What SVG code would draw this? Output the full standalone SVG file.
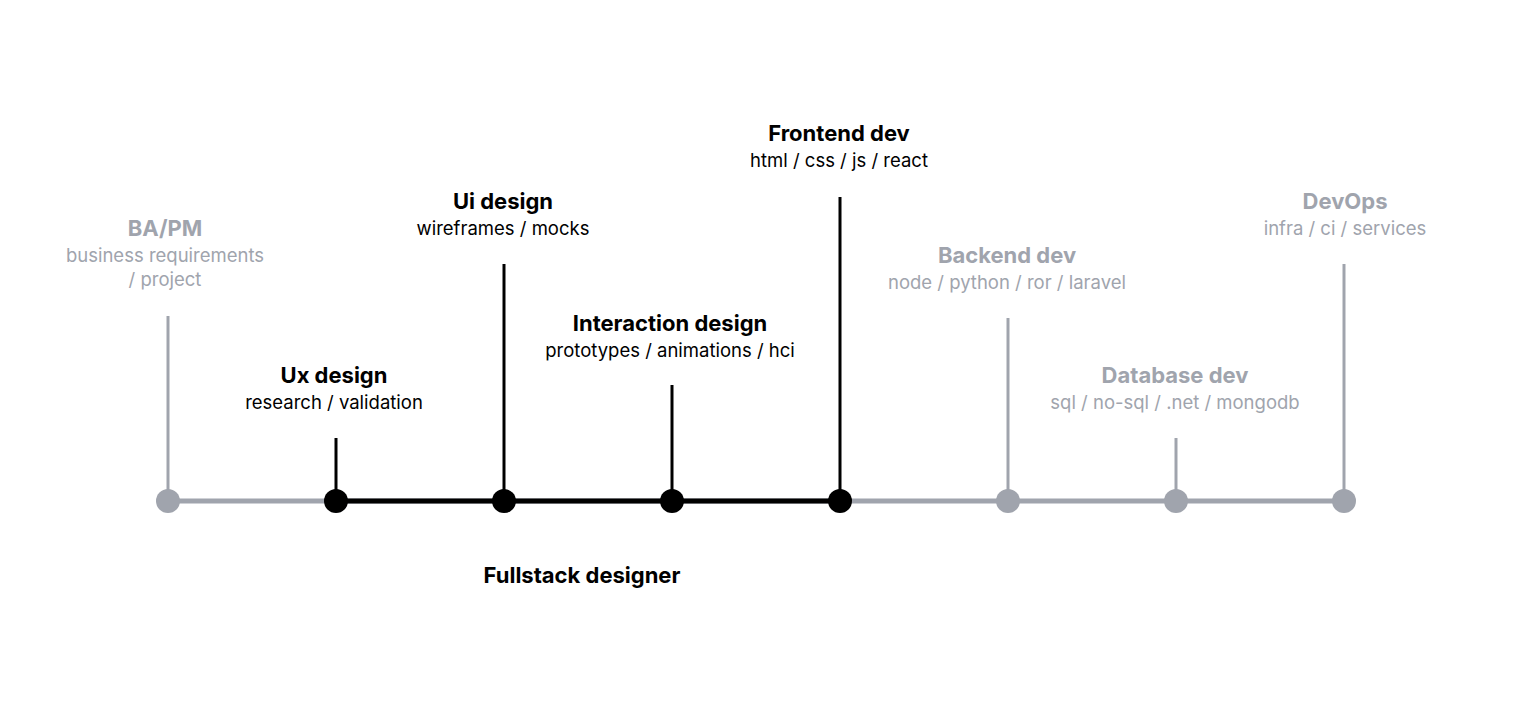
<svg xmlns="http://www.w3.org/2000/svg" width="1526" height="710" viewBox="0 0 1526 710">
<style>
.t{font-family:Inter,"Liberation Sans",sans-serif;font-weight:700;font-size:22px;text-anchor:middle}
.s{font-family:Inter,"Liberation Sans",sans-serif;font-size:18.5px;text-anchor:middle}
.g{fill:#a0a4ad}.k{fill:#000}
.gl{stroke:#a0a4ad;stroke-width:3}.kl{stroke:#000;stroke-width:3}
</style>
<rect width="1526" height="710" fill="#fff"/>
<g id="connectors">
<line x1="168" y1="501" x2="1344" y2="501" stroke="#a0a4ad" stroke-width="5"/>
<line x1="336" y1="501" x2="840" y2="501" stroke="#000" stroke-width="5"/>
<line class="gl" x1="168" y1="316" x2="168" y2="501"/>
<line class="kl" x1="336" y1="438" x2="336" y2="501"/>
<line class="kl" x1="504" y1="264" x2="504" y2="501"/>
<line class="kl" x1="672" y1="385" x2="672" y2="501"/>
<line class="kl" x1="840" y1="197" x2="840" y2="501"/>
<line class="gl" x1="1008" y1="318" x2="1008" y2="501"/>
<line class="gl" x1="1176" y1="438" x2="1176" y2="501"/>
<line class="gl" x1="1344" y1="264" x2="1344" y2="501"/>
</g>
<g id="bapm"><circle class="g" cx="168" cy="501" r="12"/><text class="t g" x="165" y="236">BA/PM</text><text class="s g" x="165" y="262">business requirements</text><text class="s g" x="165" y="286">/ project</text></g>
<g id="ux"><circle class="k" cx="336" cy="501" r="12"/><text class="t k" x="334" y="383">Ux design</text><text class="s k" x="334" y="409">research / validation</text></g>
<g id="ui"><circle class="k" cx="504" cy="501" r="12"/><text class="t k" x="503" y="209">Ui design</text><text class="s k" x="503" y="235">wireframes / mocks</text></g>
<g id="ixd"><circle class="k" cx="672" cy="501" r="12"/><text class="t k" x="670" y="331">Interaction design</text><text class="s k" x="670" y="357">prototypes / animations / hci</text></g>
<g id="fe"><circle class="k" cx="840" cy="501" r="12"/><text class="t k" x="839" y="141">Frontend dev</text><text class="s k" x="839" y="167">html / css / js / react</text></g>
<g id="be"><circle class="g" cx="1008" cy="501" r="12"/><text class="t g" x="1007" y="263">Backend dev</text><text class="s g" x="1007" y="289">node / python / ror / laravel</text></g>
<g id="db"><circle class="g" cx="1176" cy="501" r="12"/><text class="t g" x="1175" y="383">Database dev</text><text class="s g" x="1175" y="409">sql / no-sql / .net / mongodb</text></g>
<g id="devops"><circle class="g" cx="1344" cy="501" r="12"/><text class="t g" x="1345" y="209">DevOps</text><text class="s g" x="1345" y="235">infra / ci / services</text></g>
<g id="fullstack"><text class="t k" x="582" y="583">Fullstack designer</text></g>
</svg>
